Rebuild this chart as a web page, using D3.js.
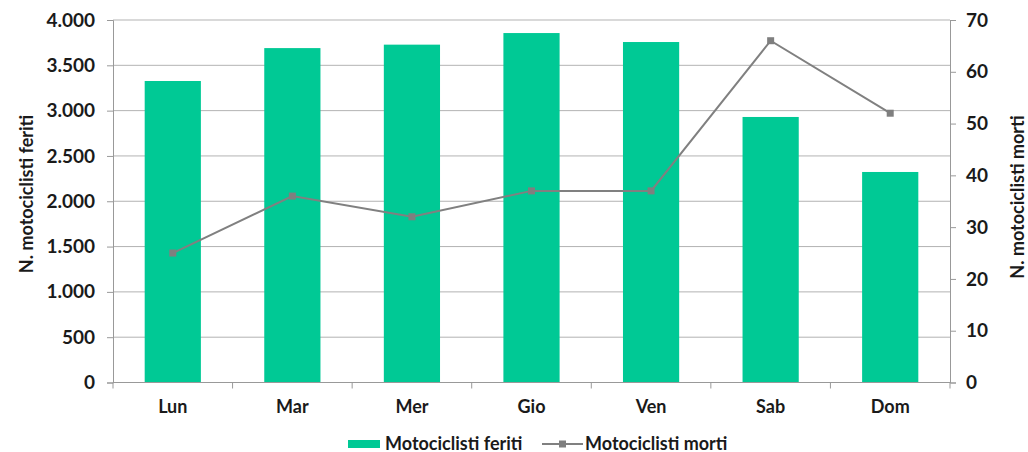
<!DOCTYPE html>
<html><head><meta charset="utf-8">
<script src="https://cdn.jsdelivr.net/npm/d3@7"></script>
<style>body{margin:0;background:#fff}svg{display:block;font-family:Lato,sans-serif;font-weight:bold}</style>
</head><body><svg id="c" width="1028" height="452"></svg>
<script>
const categories = ["Lun","Mar","Mer","Gio","Ven","Sab","Dom"];
const feriti = [3327, 3690, 3728, 3856, 3757, 2930, 2323];
const morti = [25, 36, 32, 37, 37, 66, 52];
const leftTicks = [0,500,1000,1500,2000,2500,3000,3500,4000];
const rightTicks = [0,10,20,30,40,50,60,70];

const svg = d3.select("#c");
const L = 113, R = 950, T = 20, B = 382.5;
const x = d3.scaleBand().domain(categories).range([L, R]).paddingInner(0.53).paddingOuter(0.265);
const xb = d3.scaleBand().domain(categories).range([L, R]);
const yL = d3.scaleLinear().domain([0,4000]).range([B, T]);
const yR = d3.scaleLinear().domain([0,70]).range([B, T]);
const fmt = d => d3.format(",")(d).replace(/,/g, ".");
const FONT = "Lato, sans-serif";

// gridlines
svg.append("g").selectAll("line").data(leftTicks.filter(d=>d>0)).join("line")
  .attr("x1", L).attr("x2", R).attr("y1", d=>yL(d)).attr("y2", d=>yL(d))
  .attr("stroke", "#b3b3b3").attr("stroke-width", 1);

// bars
svg.append("g").selectAll("rect").data(categories).join("rect")
  .attr("x", d=>x(d)).attr("width", x.bandwidth())
  .attr("y", (d,i)=>yL(feriti[i])).attr("height", (d,i)=>B - yL(feriti[i]))
  .attr("fill", "#00C995");

// axes
const axL = svg.append("g").attr("transform", `translate(${L},0)`)
  .call(d3.axisLeft(yL).tickValues(leftTicks).tickFormat(fmt).tickSize(6).tickPadding(12));
const axR = svg.append("g").attr("transform", `translate(${R},0)`)
  .call(d3.axisRight(yR).tickValues(rightTicks).tickSize(6).tickPadding(10));
const axX = svg.append("g").attr("transform", `translate(0,${B})`)
  .call(d3.axisBottom(xb).tickSize(0).tickPadding(18));
// x boundary ticks
svg.append("g").selectAll("line").data(d3.range(categories.length+1)).join("line")
  .attr("x1", i=>L + i*xb.step()).attr("x2", i=>L + i*xb.step())
  .attr("y1", B).attr("y2", B+6).attr("stroke", "#999");
[axL, axR, axX].forEach(a => {
  a.selectAll("path").attr("stroke", "#999");
  a.selectAll("line").attr("stroke", "#999");
  a.selectAll("text").attr("font-size", 18).attr("font-weight", "bold").attr("fill", "#1a1a1a")
    .attr("font-family", FONT);
});
axL.selectAll("text").attr("font-size", 19);
axR.selectAll("text").attr("font-size", 19);
axX.select("path").attr("d", `M${L},0H${R}`);

// line
const line = d3.line().x((d,i)=>xb(categories[i]) + xb.bandwidth()/2).y(d=>yR(d));
svg.append("path").datum(morti).attr("d", line).attr("fill","none").attr("stroke","#808080").attr("stroke-width",2);
svg.append("g").selectAll("rect").data(morti).join("rect")
  .attr("x",(d,i)=>xb(categories[i]) + xb.bandwidth()/2 - 3.5).attr("y", d=>yR(d)-3.5)
  .attr("width",7).attr("height",7).attr("fill","#7f7f7f");

// titles
svg.append("text").attr("transform","translate(33,194) rotate(-90)").attr("text-anchor","middle")
  .attr("font-size",18).attr("fill","#1a1a1a").attr("font-family",FONT).text("N. motociclisti feriti");
svg.append("text").attr("transform","translate(1024,197) rotate(-90)").attr("text-anchor","middle")
  .attr("font-size",18).attr("fill","#1a1a1a").attr("font-family",FONT).text("N. motociclisti morti");

// legend
const lg = svg.append("g").attr("font-family",FONT);
lg.append("rect").attr("x",348).attr("y",440).attr("width",32).attr("height",8).attr("fill","#00C995");
lg.append("text").attr("x",385).attr("y",449.5).attr("font-size",18).attr("fill","#1a1a1a").text("Motociclisti feriti");
lg.append("line").attr("x1",542).attr("x2",583).attr("y1",444).attr("y2",444).attr("stroke","#808080").attr("stroke-width",2);
lg.append("rect").attr("x",559).attr("y",440.5).attr("width",7).attr("height",7).attr("fill","#7f7f7f");
lg.append("text").attr("x",585).attr("y",449.5).attr("font-size",18).attr("fill","#1a1a1a").text("Motociclisti morti");
</script></body></html>
